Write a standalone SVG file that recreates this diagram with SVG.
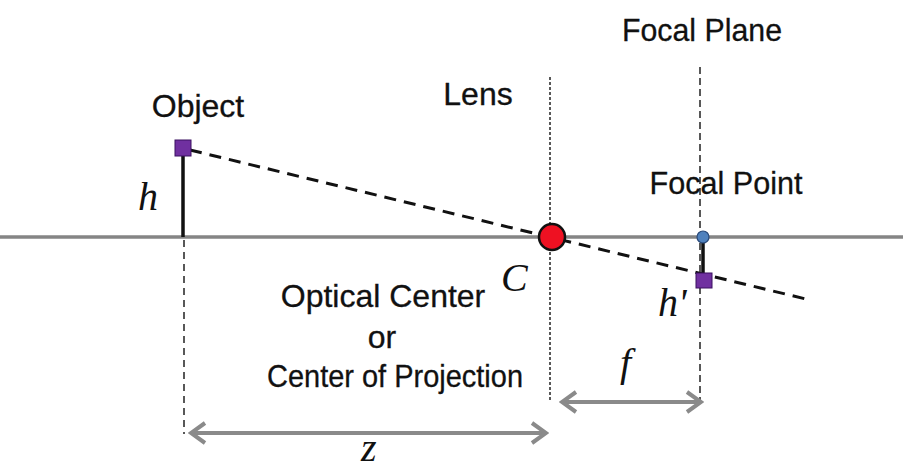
<svg xmlns="http://www.w3.org/2000/svg" width="903" height="471" viewBox="0 0 903 471">
<style>
.lbl{font-family:"Liberation Sans",Arial,sans-serif;font-size:32px;fill:#111;stroke:#111;stroke-width:0.3}
.math{font-family:"Liberation Serif","Times New Roman",serif;font-style:italic;font-size:40px;fill:#111}
.guide{stroke:#222;stroke-width:1.5;fill:none}
.dim{stroke:#8a8a8a;stroke-width:4;fill:none}
</style>
<defs>
<marker id="ah" viewBox="0 0 20 24" refX="17" refY="12" markerWidth="20" markerHeight="24" markerUnits="userSpaceOnUse" orient="auto-start-reverse">
<path d="M3,2 L17,12 L3,22" fill="none" stroke="#8a8a8a" stroke-width="4" stroke-linejoin="miter"/>
</marker>
</defs>
<rect width="903" height="471" fill="#fff"/>
<g id="connectors">
<line x1="0" y1="237" x2="903" y2="237" stroke="#858585" stroke-width="3.5"/>
<line class="guide" x1="550" y1="77" x2="550" y2="400" stroke-dasharray="3 2"/>
<line class="guide" x1="700" y1="67" x2="700" y2="400" stroke-dasharray="7 4"/>
<line class="guide" x1="184" y1="240" x2="184" y2="434" stroke-dasharray="7 5"/>
<line x1="190" y1="150" x2="810" y2="300" stroke="#111" stroke-width="3" stroke-dasharray="12 8"/>
<line x1="183" y1="150" x2="183" y2="237" stroke="#111" stroke-width="3.5"/>
<line x1="703" y1="237" x2="703" y2="276" stroke="#111" stroke-width="3.5"/>
<line class="dim" x1="191" y1="433" x2="546" y2="433" marker-start="url(#ah)" marker-end="url(#ah)"/>
<line class="dim" x1="562" y1="402" x2="701" y2="402" marker-start="url(#ah)" marker-end="url(#ah)"/>
</g>
<g id="object">
<rect x="175" y="140" width="16" height="16" fill="#7030a0" stroke="#3a1060" stroke-width="1"/>
<text class="lbl" x="198" y="117" text-anchor="middle">Object</text>
<text class="math" x="138" y="210">h</text>
</g>
<g id="lens">
<text class="lbl" x="478" y="105" text-anchor="middle">Lens</text>
</g>
<g id="optical-center">
<circle cx="552" cy="237" r="13" fill="#ee1122" stroke="#111" stroke-width="2.5"/>
<text class="math" x="501" y="291">C</text>
<text class="lbl" x="383" y="307" text-anchor="middle">Optical Center</text>
<text class="lbl" x="382" y="348" text-anchor="middle">or</text>
<text class="lbl" x="395" y="387" text-anchor="middle" textLength="256" lengthAdjust="spacingAndGlyphs">Center of Projection</text>
</g>
<g id="focal-plane">
<text class="lbl" x="702" y="41" text-anchor="middle" textLength="160" lengthAdjust="spacingAndGlyphs">Focal Plane</text>
</g>
<g id="focal-point">
<circle cx="703" cy="237" r="6" fill="#4f81bd" stroke="#2a4a7a" stroke-width="1.2"/>
<text class="lbl" x="726" y="194" text-anchor="middle" textLength="153" lengthAdjust="spacingAndGlyphs">Focal Point</text>
</g>
<g id="image">
<rect x="696" y="273" width="16" height="15" fill="#7030a0" stroke="#3a1060" stroke-width="1"/>
<text class="math" x="658" y="316">h'</text>
</g>
<g id="labels">
<text class="math" x="620" y="376">f</text>
<text class="math" x="361" y="461">z</text>
</g>
</svg>
